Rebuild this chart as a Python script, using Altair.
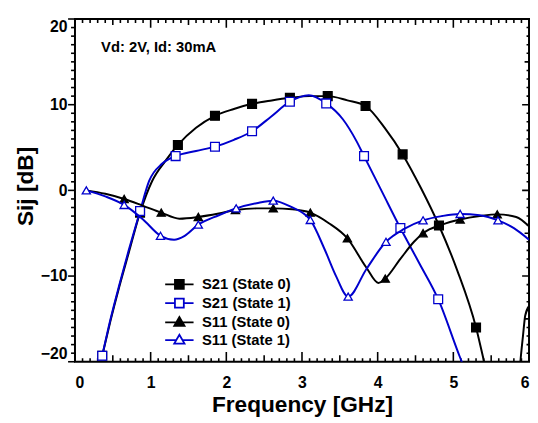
import altair as alt
import pandas as pd

FONT = "Liberation Sans"
BLUE = "#0000CD"

series_names = ["S21 (State 0)", "S21 (State 1)", "S11 (State 0)", "S11 (State 1)"]
series_colors = ["#000000", BLUE, "#000000", BLUE]
series_fills = ["#000000", "#FFFFFF", "#000000", "#FFFFFF"]
series_shapes = ["square", "square", "triangle-up", "triangle-up"]
series_sizes = [80, 80, 70, 70]
legend_symbols = [
    "M-1.6,0H-0.5M0.5,0H1.6M-0.5,-0.5H0.5V0.5H-0.5Z",
    "M-1.6,0H-0.5M0.5,0H1.6M-0.5,-0.5H0.5V0.5H-0.5Z",
    "M-1.6,0.05H-0.3M0.3,0.05H1.6M0,-0.55L0.58,0.45H-0.58Z",
    "M-1.6,0.05H-0.3M0.3,0.05H1.6M0,-0.55L0.58,0.45H-0.58Z",
]

# ---- S21 (State 0): curve and markers
s21_0_f = [0.36, 0.47, 0.59, 0.71, 0.86, 1.02, 1.2, 1.36, 1.6, 1.85, 2.1, 2.34, 2.6, 2.84,
           3.1, 3.34, 3.6, 3.84, 4.1, 4.33, 4.57, 4.81, 5.05, 5.3, 5.42, 5.55, 5.72, 5.85,
           5.89, 5.92, 5.95, 6.0]
s21_0_v = [-19.3, -15.2, -11.1, -7.3, -2.6, 1.1, 3.5, 5.3, 7.3, 8.7, 9.5, 10.1, 10.5, 10.8,
           11.0, 11.0, 10.5, 9.85, 7.2, 4.2, 0.3, -4.1, -9.3, -16.0, -20.5, -25.0, -28.0, -24.0,
           -19.6, -17.0, -14.6, -13.5]
s21_0_mf = [0.36, 0.86, 1.36, 1.85, 2.34, 2.84, 3.34, 3.84, 4.33, 4.81, 5.30]
s21_0_mv = [-19.3, -2.6, 5.3, 8.7, 10.1, 10.8, 11.0, 9.85, 4.2, -4.1, -16.0]

# ---- S21 (State 1)
s21_1_f = [0.36, 0.47, 0.59, 0.71, 0.86, 0.98, 1.15, 1.33, 1.6, 1.85, 2.1, 2.34, 2.59, 2.84,
           3.09, 3.32, 3.54, 3.72, 3.82, 4.06, 4.30, 4.55, 4.80, 5.08, 5.25, 5.5]
s21_1_v = [-19.3, -15.0, -10.9, -7.0, -2.4, 1.1, 3.1, 4.0, 4.6, 5.1, 5.9, 6.9, 8.6, 10.35,
           11.1, 10.15, 8.3, 5.75, 4.0, -0.2, -4.4, -8.5, -12.7, -19.3, -23.0, -28.0]
s21_1_mf = [0.36, 0.86, 1.33, 1.85, 2.34, 2.84, 3.32, 3.82, 4.30, 4.80]
s21_1_mv = [-19.3, -2.4, 4.0, 5.1, 6.9, 10.35, 10.15, 4.0, -4.4, -12.7]

# ---- S11 (State 0)
s11_0_f = [0.15, 0.4, 0.65, 0.9, 1.14, 1.38, 1.63, 1.9, 2.12, 2.4, 2.62, 2.87, 3.11, 3.35,
           3.60, 3.85, 4.01, 4.10, 4.3, 4.48, 4.60, 4.85, 5.09, 5.35, 5.58, 5.83, 6.0]
s11_0_v = [0.0, -0.4, -1.0, -1.8, -2.6, -3.3, -3.1, -2.7, -2.3, -2.1, -2.1, -2.2, -2.6, -3.8,
           -5.6, -9.0, -10.8, -10.3, -8.0, -6.0, -5.0, -4.0, -3.4, -3.0, -2.8, -3.1, -4.2]
s11_0_mf = [0.65, 1.14, 1.63, 2.12, 2.62, 3.11, 3.60, 4.10, 4.60, 5.09, 5.58]
s11_0_mv = [-1.0, -2.6, -3.1, -2.3, -2.1, -2.6, -5.6, -10.3, -5.0, -3.4, -2.8]

# ---- S11 (State 1)
s11_1_f = [0.15, 0.4, 0.65, 0.9, 1.13, 1.31, 1.45, 1.63, 1.9, 2.13, 2.4, 2.62, 2.85, 3.11,
           3.30, 3.45, 3.61, 3.85, 4.11, 4.35, 4.60, 4.85, 5.09, 5.35, 5.59, 5.8, 6.0]
s11_1_v = [0.0, -0.7, -1.7, -3.4, -5.3, -5.75, -5.3, -4.0, -2.9, -2.1, -1.5, -1.2, -1.9, -3.45,
           -6.9, -10.0, -12.4, -9.2, -6.0, -4.5, -3.5, -3.0, -2.75, -2.9, -3.5, -4.4, -5.75]
s11_1_mf = [0.15, 0.65, 1.13, 1.63, 2.13, 2.62, 3.11, 3.61, 4.11, 4.60, 5.09, 5.59]
s11_1_mv = [0.0, -1.7, -5.3, -4.0, -2.1, -1.2, -3.45, -12.4, -6.0, -3.5, -2.75, -3.5]

# ---- annotation
note_text = ["Vd: 2V, Id: 30mA"]
note_f = [0.345]
note_v = [16.7]

# ---- axes
x_domain = [0, 6]
y_domain = [-20, 20]
x_major_ticks = [0, 1, 2, 3, 4, 5, 6]
x_half_ticks = [0.5, 1.5, 2.5, 3.5, 4.5, 5.5]
x_minor_ticks = [round(i / 10, 1) for i in range(61) if i % 5 != 0]
y_major_ticks = [-20, -10, 0, 10, 20]
y_half_ticks = [-15, -5, 5, 15]
y_minor_ticks = [i for i in range(-20, 21) if i % 5 != 0]

W, H = 461, 348
DB_PER_PX = (y_domain[1] - y_domain[0]) / H
GHZ_PER_PX = (x_domain[1] - x_domain[0]) / W
xs = alt.Scale(domain=x_domain, nice=False, zero=False)
ys = alt.Scale(domain=y_domain, nice=False, zero=False)

curves = [
    (s21_0_f, s21_0_v, s21_0_mf, s21_0_mv),
    (s21_1_f, s21_1_v, s21_1_mf, s21_1_mv),
    (s11_0_f, s11_0_v, s11_0_mf, s11_0_mv),
    (s11_1_f, s11_1_v, s11_1_mf, s11_1_mv),
]

base_df = pd.DataFrame({"f": s21_0_f, "v": s21_0_v})

layers = []

# main axes (labels and titles)
main_x_axis = alt.Axis(
    orient="bottom", values=x_major_ticks, ticks=False, tickSize=0, domain=False, grid=False,
    labelFont=FONT, labelFontSize=16, labelFontWeight="bold", labelColor="black",
    labelPadding=13, labelFlush=False,
    labelAlign={"condition": [{"test": "datum.value == 0", "value": "left"},
                              {"test": "datum.value == 6", "value": "right"}],
                "value": "center"},
    title="Frequency [GHz]", titleFont=FONT, titleFontSize=23, titleFontWeight="bold",
    titleColor="black", titleBaseline="alphabetic", titleY=51,
)
main_y_axis = alt.Axis(
    orient="left", values=y_major_ticks, ticks=False, tickSize=0,
    domain=False, grid=False,
    labelFont=FONT, labelFontSize=16, labelFontWeight="bold", labelColor="black",
    labelPadding=8, labelFlush=True,
    title="Sij [dB]", titleFont=FONT, titleFontSize=23, titleFontWeight="bold",
    titleColor="black", titleAngle=270, titleBaseline="alphabetic", titleAlign="center",
    titleX=-43, titleY=169.5,
)
layers.append(
    alt.Chart(base_df).mark_point(opacity=0).encode(
        x=alt.X("f:Q", scale=xs, axis=main_x_axis),
        y=alt.Y("v:Q", scale=ys, axis=main_y_axis),
    )
)

# ---- tick marks as short two-point line segments (frame edge -> tick end)
inner_rows = []
outer_rows = []


def add_x_ticks(rows, values, edge, length_px, direction):
    for t in values:
        tid = len(rows)
        rows.append({"id": tid, "k": 0, "f": t, "v": edge})
        rows.append({"id": tid, "k": 1, "f": t, "v": edge + direction * length_px * DB_PER_PX})


def add_y_ticks(rows, values, edge, length_px, direction):
    for t in values:
        tid = len(rows)
        rows.append({"id": tid, "k": 0, "f": edge, "v": t})
        rows.append({"id": tid, "k": 1, "f": edge + direction * length_px * GHZ_PER_PX, "v": t})


# bottom (inward = up), top (inward = down)
add_x_ticks(inner_rows, x_major_ticks, y_domain[0], 10, 1)
add_x_ticks(inner_rows, x_half_ticks, y_domain[0], 6.5, 1)
add_x_ticks(inner_rows, x_minor_ticks, y_domain[0], 3.5, 1)
add_x_ticks(inner_rows, x_major_ticks, y_domain[1], 9, -1)
add_x_ticks(inner_rows, x_half_ticks, y_domain[1], 6, -1)
add_x_ticks(inner_rows, x_minor_ticks, y_domain[1], 4, -1)
# right (inward = left)
add_y_ticks(inner_rows, y_major_ticks, x_domain[1], 7, -1)
add_y_ticks(inner_rows, y_half_ticks, x_domain[1], 4.5, -1)
add_y_ticks(inner_rows, y_minor_ticks, x_domain[1], 2.5, -1)
# left (outward = left)
add_y_ticks(outer_rows, y_major_ticks, x_domain[0], 7, -1)
add_y_ticks(outer_rows, y_half_ticks + y_minor_ticks, x_domain[0], 4, -1)

for rows, clip in ((inner_rows, True), (outer_rows, False)):
    layers.append(
        alt.Chart(pd.DataFrame(rows)).mark_line(
            clip=clip, color="#000000", strokeWidth=1.6, interpolate="linear"
        ).encode(
            x=alt.X("f:Q", scale=xs, axis=None),
            y=alt.Y("v:Q", scale=ys, axis=None),
            detail="id:N",
            order="k:Q",
        )
    )

# data series
for k, (cf, cv, mf, mv) in enumerate(curves):
    layers.append(
        alt.Chart(pd.DataFrame({"f": cf, "v": cv})).mark_line(
            clip=True, interpolate="monotone", color=series_colors[k], strokeWidth=2
        ).encode(
            x=alt.X("f:Q", scale=xs, axis=None),
            y=alt.Y("v:Q", scale=ys, axis=None),
        )
    )
    layers.append(
        alt.Chart(pd.DataFrame({"f": mf, "v": mv})).mark_point(
            clip=True, shape=series_shapes[k], filled=True, fill=series_fills[k],
            stroke=series_colors[k], strokeWidth=1.3, size=series_sizes[k], opacity=1
        ).encode(
            x=alt.X("f:Q", scale=xs, axis=None),
            y=alt.Y("v:Q", scale=ys, axis=None),
        )
    )

# annotation
layers.append(
    alt.Chart(pd.DataFrame({"t": note_text, "f": note_f, "v": note_v})).mark_text(
        align="left", baseline="middle", font=FONT, fontSize=15, fontWeight="bold",
        color="black"
    ).encode(
        x=alt.X("f:Q", scale=xs, axis=None),
        y=alt.Y("v:Q", scale=ys, axis=None),
        text="t:N",
    )
)

# legend (carried by an invisible layer)
legend_cfg = alt.Legend(
    orient="none", legendX=96, legendY=259.5, title=None, padding=0, rowPadding=0,
    symbolSize=324, symbolStrokeWidth=1.8, symbolOpacity=1,
    labelFont=FONT, labelFontSize=15, labelFontWeight="bold", labelColor="black",
    labelOffset=13, labelLimit=300,
)
layers.append(
    alt.Chart(pd.DataFrame({"series": series_names})).mark_point(
        opacity=0, strokeWidth=1.8
    ).encode(
        shape=alt.Shape("series:N", scale=alt.Scale(domain=series_names, range=legend_symbols),
                        legend=legend_cfg),
        fill=alt.Fill("series:N", scale=alt.Scale(domain=series_names, range=series_fills),
                      legend=legend_cfg),
        stroke=alt.Stroke("series:N", scale=alt.Scale(domain=series_names, range=series_colors),
                          legend=legend_cfg),
    )
)

chart = alt.layer(*layers).resolve_axis(
    x="independent", y="independent"
).properties(
    width=W, height=H,
    padding={"left": 68, "top": 8, "right": 1, "bottom": 58},
    autosize=alt.AutoSizeParams(type="none"),
    background="white",
).configure_view(stroke="black", strokeWidth=2)

chart.save("out.html", embed_options={"renderer": "svg", "actions": False})
